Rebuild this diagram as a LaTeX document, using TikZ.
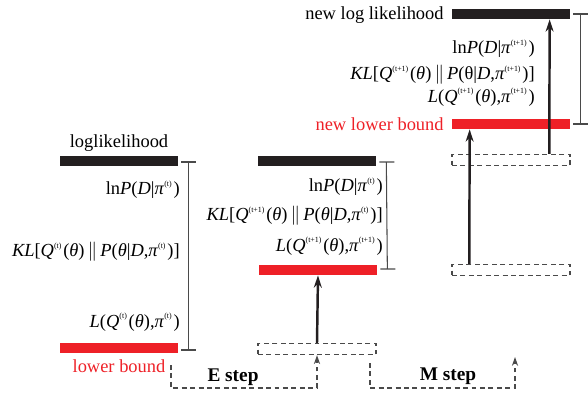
\documentclass[tikz,border=0pt]{standalone}
\usepackage{fontspec}
\setmainfont{Liberation Serif}
\usepackage{tikz}
\usetikzlibrary{arrows.meta, calc}
\definecolor{emred}{HTML}{EE2027}
\definecolor{emblack}{HTML}{231F20}
\definecolor{emgray}{HTML}{4A4A4A}

% italic letters and tiny raised indices
\newcommand{\vi}[1]{\textit{#1}}
\newcommand{\sps}[1]{\raisebox{1.0ex}{\fontsize{4.5}{5}\selectfont(#1)}\kern1pt}
\newcommand{\kldiv}{\,$\|$\,}

\begin{document}
\begin{tikzpicture}[
  x=0.02cm, y=-0.02cm,
  every node/.style={font=\fontsize{10.5}{12}\selectfont, inner sep=0pt},
  bar/.style={fill=#1, minimum width=2.36cm, minimum height=0.2cm},
  oldbar/.style={draw=emgray, dash pattern=on 2.8pt off 2pt, line width=0.8pt,
    minimum width=2.36cm, minimum height=0.22cm},
  term/.style={anchor=east},
  arr/.style={-{Stealth[length=7pt, width=4.5pt]}, line width=1.4pt, emblack},
  steparr/.style={-{Stealth[length=5pt, width=3.5pt]}, draw=emgray,
    dash pattern=on 2.8pt off 2pt, line width=0.8pt},
  brk/.style={draw=emgray, semithick}
]
  \useasboundingbox (0,0) rectangle (588,397);

  % Bars before the E step
  \node[bar=emblack] (ll1) at (119,161) {};
  \node[bar=emred] (lb1) at (119,348) {};
  \node (ll1lab) at (119,143) {loglikelihood};
  \node[text=emred] (lb1lab) at (119,366) {lower bound};
  \node[term] (ln1) at (180,190) {ln\vi{P}(\vi{D}|\vi{π}\sps{t})};
  \node[term] (kl1) at (180,252)
    {\vi{KL}[\vi{Q}\sps{t}(\vi{θ})\kldiv\vi{P}(\vi{θ}|\vi{D},\vi{π}\sps{t})]};
  \node[term] (lq1) at (180,322) {\vi{L}(\vi{Q}\sps{t}(\vi{θ}),\vi{π}\sps{t})};

  % Bars after the E step
  \node[bar=emblack] (ll2) at (317,161) {};
  \node[bar=emred] (lb2) at (318,270) {};
  \node[oldbar] (old2) at (317,349) {};
  \node[term] (ln2) at (383,187) {ln\vi{P}(\vi{D}|\vi{π}\sps{t})};
  \node[term] (kl2) at (383,216)
    {\vi{KL}[\vi{Q}\sps{t+1}(\vi{θ})\kldiv\vi{P}(\vi{θ}|\vi{D},\vi{π}\sps{t})]};
  \node[term] (lq2) at (383,246) {\vi{L}(\vi{Q}\sps{t+1}(\vi{θ}),\vi{π}\sps{t+1})};

  % Bars after the M step
  \node[bar=emblack] (ll3) at (511,14) {};
  \node[bar=emred] (lb3) at (511,124) {};
  \node[oldbar] (oldll3) at (511,160) {};
  \node[oldbar] (oldlb3) at (511,270) {};
  \node[term] (ll3lab) at (444,15) {new log likelihood};
  \node[term, text=emred] (lb3lab) at (444,124) {new lower bound};
  \node[term] (ln3) at (535,49) {ln\vi{P}(\vi{D}|\vi{π}\sps{t+1})};
  \node[term] (kl3) at (535,75)
    {\vi{KL}[\vi{Q}\sps{t+1}(\vi{θ})\kldiv\vi{P}(θ|\vi{D},\vi{π}\sps{t+1})]};
  \node[term] (lq3) at (535,97) {\vi{L}(\vi{Q}\sps{t+1}(\vi{θ}),\vi{π}\sps{t+1})};

  % Gaps
  \draw[brk] ($(ll1.east)+(3,1)$) -- +(15,0)
    ($(ll1.east)+(10,1)$) -- ($(lb1.east)+(10,2)$)
    ($(lb1.east)+(3,2)$) -- +(15,0);
  \draw[brk] ($(ll2.east)+(3,1)$) -- +(15,0)
    ($(ll2.east)+(10,1)$) -- ($(lb2.east)+(10,-1)$)
    ($(lb2.east)+(3,-1)$) -- +(15,0);
  \draw[brk] ($(ll3.east)+(3,0)$) -- +(15,0)
    ($(ll3.east)+(10,0)$) -- ($(lb3.east)+(10,0)$)
    ($(lb3.east)+(3,0)$) -- +(15,0);

  % Moves
  \draw[arr] (old2.north) -- (lb2.south);
  \draw[arr] ([xshift=0.36cm]oldlb3.north west) -- ([xshift=0.36cm]lb3.south west);
  \draw[arr] ([xshift=1.96cm]oldll3.north west) -- ([xshift=1.96cm]ll3.south west);

  % Steps
  \coordinate (estart) at (171,365);
  \coordinate (mstart) at (370,363);
  \coordinate (mend) at (515,357);
  \draw[steparr] (estart) -- ++(0,23) -| (old2.south);
  \draw[steparr] (mstart) -- ++(0,25) -| (mend);
  \node[font=\fontsize{11}{13}\selectfont\bfseries] (estep) at (233,377) {E step};
  \node[font=\fontsize{11}{13}\selectfont\bfseries] (mstep) at (448,376) {M step};
\end{tikzpicture}
\end{document}
